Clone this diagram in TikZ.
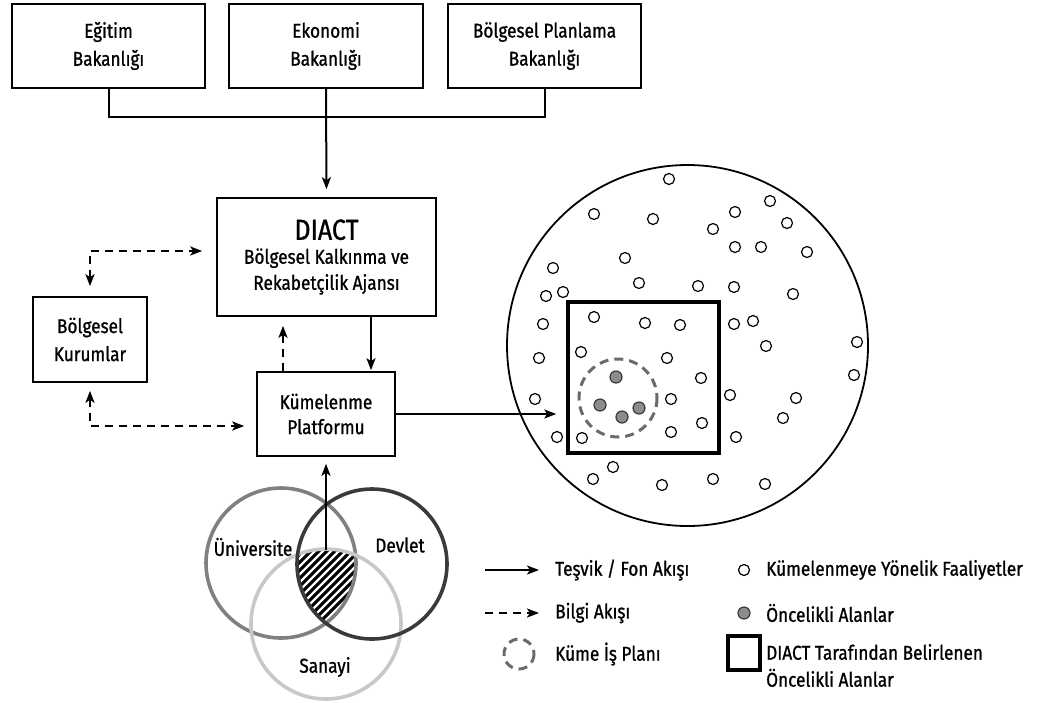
\documentclass[tikz,border=0pt]{standalone}
\usepackage{fontspec}
\setmainfont{Fira Sans}[FakeBold=1, FakeStretch=0.86]
\usetikzlibrary{arrows.meta,calc}
\definecolor{uni}{HTML}{808080}
\definecolor{dev}{HTML}{3A3A3A}
\definecolor{san}{HTML}{C8C8C8}
\definecolor{dotgray}{HTML}{8C8C8C}
\definecolor{plan}{HTML}{6A6A6A}
\begin{document}
\begin{tikzpicture}[x=1pt,y=-1pt,
  txt/.style={font=\fontsize{20}{28}\selectfont, align=center},
  box/.style={draw, line width=1.6pt, inner sep=0pt, txt},
  conn/.style={line width=2pt},
  arr/.style={conn, -{Stealth[length=12pt,width=9pt,inset=3pt]}},
  darr/.style={conn, line width=2.2pt, dash pattern=on 8pt off 6pt, -{Stealth[length=12pt,width=9pt,inset=3pt]}},
  ddarr/.style={conn, line width=2.2pt, dash pattern=on 8pt off 6pt, {Stealth[length=12pt,width=9pt,inset=3pt]}-{Stealth[length=12pt,width=9pt,inset=3pt]}},
  act/.style={draw, line width=1.2pt, fill=white},
  prio/.style={draw=dev, line width=1.2pt, fill=dotgray},
  planring/.style={draw=plan, line width=3pt, dash pattern=on 9pt off 6pt},
  lbl/.style={font=\fontsize{20}{27}\selectfont, anchor=west, align=left, inner sep=0pt}
]
\useasboundingbox (0,0) rectangle (1040,702);

% top ministries
\node[box, minimum width=193pt, minimum height=84pt] (egitim) at (108.5,46) {Eğitim\\Bakanlığı};
\node[box, minimum width=194pt, minimum height=84pt] (ekonomi) at (326,46) {Ekonomi\\Bakanlığı};
\node[box, minimum width=193pt, minimum height=84pt] (bolgesel) at (544.5,46) {Bölgesel Planlama\\Bakanlığı};

% middle boxes
\node[box, minimum width=219pt, minimum height=118pt, font=\fontsize{20}{26}\selectfont] (diact) at (326.5,257)
  {{\fontsize{29}{30}\selectfont DIACT}\\[-2pt]Bölgesel Kalkınma ve\\Rekabetçilik Ajansı};
\node[box, minimum width=114pt, minimum height=85pt] (kurumlar) at (90,339.5) {Bölgesel\\Kurumlar};
\node[box, minimum width=138pt, minimum height=84pt, font=\fontsize{20}{25}\selectfont] (kumelenme) at (326,414) {Kümelenme\\Platformu};

\coordinate (join) at (0,117);
\coordinate (upper) at (0,251);
\coordinate (lower) at (0,426);
\coordinate (xdash) at (283,0);
\coordinate (xsolid) at (371,0);

% ministries to DIACT
\draw[conn] (egitim.south) -- (egitim.south |- join) -| (bolgesel.south);
\draw[arr, shorten >=8pt] (ekonomi.south) -- (diact.north);

% information flows
\draw[ddarr, shorten <=10pt, shorten >=14pt] (kurumlar.north) |- (diact.west |- upper);
\draw[ddarr, shorten <=8pt, shorten >=12pt] (kurumlar.south) |- (kumelenme.west |- lower);
\draw[darr, shorten >=9pt] (kumelenme.north -| xdash) -- (diact.south -| xdash);
\draw[arr, shorten >=1pt] (diact.south -| xsolid) -- (kumelenme.north -| xsolid);

% big field
\draw[line width=1.8pt] (687.5,345.5) circle (180.5);
\node[draw, line width=3.5pt, minimum width=151pt, minimum height=151pt, inner sep=0pt] (square) at (643.5,377.5) {};
\draw[arr, shorten >=10pt] (kumelenme.east) -- (kumelenme.east -| square.west);

\foreach \x/\y in {669/179,594/214,653/219,735/212,770/201,787/223,713/229,735/247,761/247,807/252,
  625/258,553/268,546/296,563/292,639/283,698/286,734/287,793/294,594/317,645/323,680/325,734/324,
  753/321,543/324,857/342,581/352,667/358,766/346,539/358,701/378,854/375,671/399,730/395,796/398,
  535/399,783/418,702/423,671/432,557/437,582/438,736/437,613/467,593/479,662/485,713/479,765/484}
  \draw[act] (\x,\y) circle (5.5);

\draw[planring] (618,398) circle (39);
\foreach \x/\y in {616/377,600/405,622/417,639/408}
  \draw[prio] (\x,\y) circle (6);

% Venn diagram
\begin{scope}
  \clip (281,563) circle (75);
  \clip (372,564) circle (75);
  \clip (326,624) circle (75);
  \fill[black] (240,500) rectangle (420,660);
  \foreach \i in {-30,...,30}
    \draw[white, line width=2.2pt] (326+\i*8,660) -- ++(160,-160);
\end{scope}
\draw[uni, line width=3.6pt] (281,563) circle (75);
\draw[san, line width=3.6pt] (326,624) circle (75);
\draw[dev, line width=3.6pt] (372,564) circle (75);
\node[txt] (universite) at (253,547) {Üniversite};
\node[txt] (devlet) at (400,545) {Devlet};
\node[txt] (sanayi) at (325,667) {Sanayi};
\coordinate (vennin) at (326,550);
\draw[arr, shorten >=7pt] (vennin) -- (kumelenme.south);

% legend
\coordinate (l1a) at (485,570); \coordinate (l1b) at (539,570);
\coordinate (l2a) at (485,613); \coordinate (l2b) at (539,613);
\draw[arr] (l1a) -- (l1b);
\draw[darr] (l2a) -- (l2b);
\draw[planring] (519,654) circle (15);
\node[lbl] (lg1) at (555,570) {Teşvik / Fon Akışı};
\node[lbl] (lg2) at (555,613) {Bilgi Akışı};
\node[lbl] (lg3) at (555,654) {Küme İş Planı};
\draw[act] (744,570) circle (5.5);
\draw[prio] (744,613) circle (6);
\node[draw, line width=3.5pt, minimum width=32pt, minimum height=34pt, inner sep=0pt] (lgsq) at (744,653) {};
\node[lbl] (lg4) at (766,570) {Kümelenmeye Yönelik Faaliyetler};
\node[lbl] (lg5) at (766,613) {Öncelikli Alanlar};
\node[lbl] (lg6) at (766,665.5) {DIACT Tarafından Belirlenen\\Öncelikli Alanlar};
\end{tikzpicture}
\end{document}
